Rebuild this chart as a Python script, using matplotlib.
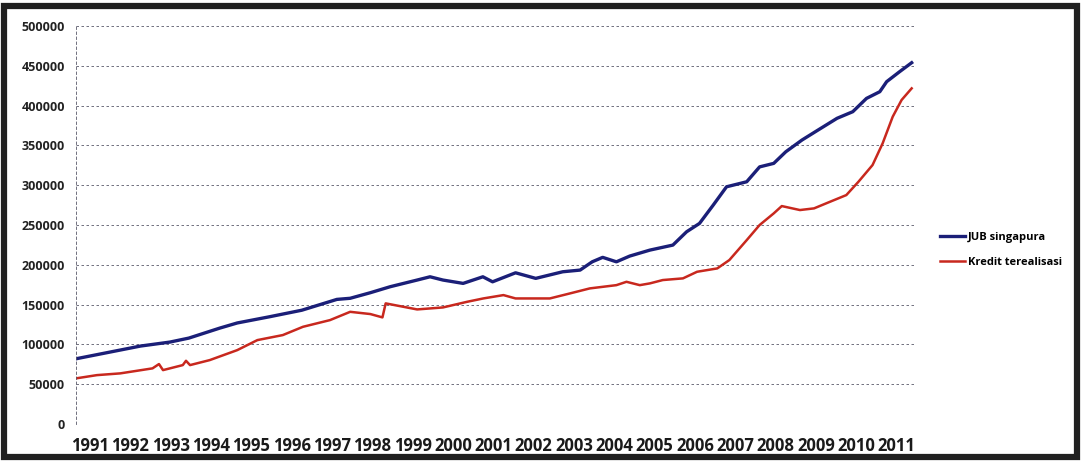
"""JUB singapura vs kredit terealisasi, 1991-2011 (recreated Excel line chart)."""

import matplotlib

matplotlib.use("Agg")

import matplotlib.pyplot as plt
from matplotlib.patches import Rectangle

# Decimal-year positions and values.
JUB_YEARS = [1991.0, 1991.5, 1992.1, 1992.6, 1993.33, 1993.8, 1994.57, 1995.0,
             1995.8, 1996.6, 1997.47, 1997.8, 1998.3, 1998.79, 1999.46, 1999.78,
             2000.1, 2000.6, 2001.09, 2001.33, 2001.9, 2002.4, 2003.07, 2003.5,
             2003.8, 2004.06, 2004.4, 2004.73, 2005.23, 2005.8, 2006.14, 2006.46,
             2006.8, 2007.13, 2007.63, 2007.95, 2008.3, 2008.6, 2009.0, 2009.4,
             2009.87, 2010.26, 2010.6, 2010.93, 2011.1, 2011.42, 2011.72]
JUB_VALUES = [82000, 87000, 93000, 98000, 103000, 108000, 120600, 127000,
              134800, 143000, 156600, 158000, 165000, 172500, 180900, 185000,
              180900, 176700, 185000, 178700, 190000, 183000, 191300, 193400,
              203800, 209400, 203800, 211000, 218500, 224800, 241500, 252000,
              275000, 298000, 304300, 323000, 327400, 342000, 356700, 369300,
              384000, 392300, 409000, 417400, 430000, 442500, 453800]

KREDIT_YEARS = [1991.0, 1991.52, 1992.1, 1992.9, 1993.06, 1993.16, 1993.65,
                1993.73, 1993.83, 1994.32, 1995.0, 1995.5, 1996.13, 1996.63,
                1997.3, 1997.8, 1998.3, 1998.6, 1998.68, 1999.46, 2000.1,
                2000.7, 2001.1, 2001.6, 2001.9, 2002.75, 2003.24, 2003.74,
                2004.4, 2004.65, 2004.98, 2005.23, 2005.55, 2006.05, 2006.4,
                2006.9, 2007.2, 2007.63, 2007.95, 2008.3, 2008.5, 2008.95,
                2009.3, 2009.6, 2010.1, 2010.4, 2010.75, 2011.0, 2011.25,
                2011.47, 2011.72]
KREDIT_VALUES = [57400, 61500, 63700, 70000, 75400, 67800, 74100,
                 79500, 74100, 80400, 92900, 105500, 111800, 122200,
                 130600, 141000, 138200, 134000, 151600, 144000, 146500,
                 153600, 157800, 162000, 157800, 157800, 164000, 170400,
                 174500, 178700, 174500, 176700, 180900, 183000, 191300,
                 195500, 206000, 231000, 250000, 264600, 273800, 268800,
                 270900, 277200, 287600, 304300, 325300, 352500, 386000,
                 407000, 421600]

YEAR_LABELS = [str(y) for y in range(1991, 2012)]

fig = plt.figure(figsize=(10.84, 4.63), dpi=100)
fig.patch.set_facecolor("white")
ax = fig.add_axes([0.070, 0.084, 0.774, 0.860])

ax.plot(JUB_YEARS, JUB_VALUES, color="#1b1f78", linewidth=2.4,
        label="JUB singapura")
ax.plot(KREDIT_YEARS, KREDIT_VALUES, color="#c8281e", linewidth=1.8,
        label="Kredit terealisasi")

ax.set_xlim(1991.0, 2011.8)
ax.set_ylim(0, 500000)
ax.set_yticks(range(0, 500001, 50000))
ax.set_yticklabels([str(v) for v in range(0, 500001, 50000)],
                   fontsize=9, fontweight="bold", color="#222222",
                   family="Open Sans")
ax.set_xticks([int(y) + 0.35 for y in YEAR_LABELS])
ax.set_xticklabels(YEAR_LABELS, fontsize=12, fontweight="bold",
                   color="#1a1a1a", family="Open Sans")
ax.tick_params(length=0, pad=8)
ax.tick_params(axis="x", pad=9)

ax.grid(axis="y", linestyle=(0, (3, 3)), linewidth=0.6, color="#5a5a6a")
for side in ("top", "right", "bottom"):
    ax.spines[side].set_visible(False)
ax.spines["left"].set_linestyle((0, (3, 3)))
ax.spines["left"].set_color("#5a5a6a")
ax.spines["left"].set_linewidth(0.6)

fig.legend(loc="center left", bbox_to_anchor=(0.858, 0.46),
           frameon=False, handlelength=2.2, handletextpad=0.3,
           labelspacing=1.2, prop={"size": 8, "weight": "bold",
                                   "family": "Open Sans"})

# Dark frame round the photographed printout.
fig.patches.append(Rectangle((0.004, 0.012), 0.99, 0.976,
                             transform=fig.transFigure, fill=False,
                             edgecolor="#202020", linewidth=4.5))

fig.savefig("out.png", dpi=100)
